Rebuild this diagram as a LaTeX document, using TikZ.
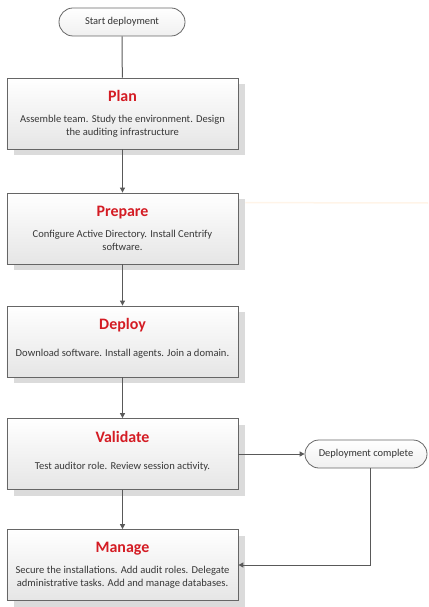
\documentclass[tikz,border=0pt]{standalone}
\usepackage{fontspec}
\setmainfont{Carlito}
\usetikzlibrary{arrows.meta,calc,shadows}
\definecolor{titlered}{RGB}{212,28,36}

\begin{document}
\begin{tikzpicture}[x=1bp,y=-1bp,
    box/.style={draw=gray!80!black,line width=0.8bp,top color=white,bottom color=gray!20,
                minimum width=231bp,minimum height=71bp,
                drop shadow={shadow xshift=7bp,shadow yshift=-6bp,fill=gray!28,opacity=1}},
    ends/.style={draw=gray!80!black,line width=0.8bp,rounded corners=14bp,top color=white,
                 bottom color=gray!12,minimum height=28bp,font=\fontsize{10.5}{12}\selectfont,text=black!80},
    title/.style={anchor=base,font=\fontsize{16}{18}\selectfont\bfseries,text=titlered},
    body/.style={font=\fontsize{10.6}{13}\selectfont,align=center,text=black!78},
    line/.style={draw=gray!70!black,line width=1bp},
    link/.style={line,-{Triangle[length=5bp,width=5bp]}}
   ]
  \useasboundingbox (0,0) rectangle (428,607);

  % terminals
  \node[ends,minimum width=126bp] (start) at (122,22) {Start deployment};
  \node[ends,minimum width=122bp] (done) at (366,454) {Deployment complete};

  % stages
  \node[box] (plan) at (122.5,113.5) {};
  \node[title] (plan-title) at ([yshift=12bp]plan.center) {Plan};
  \node[body] (plan-body) at ([yshift=-13bp]plan.center)
    {Assemble team. Study the environment. Design\\the auditing infrastructure};

  \node[box] (prepare) at (122.5,228.5) {};
  \node[title] (prepare-title) at ([yshift=12bp]prepare.center) {Prepare};
  \node[body] (prepare-body) at ([yshift=-12bp]prepare.center)
    {Configure Active Directory. Install Centrify\\software.};

  \node[box] (deploy) at (122.5,341.5) {};
  \node[title] (deploy-title) at ([yshift=12bp]deploy.center) {Deploy};
  \node[body] (deploy-body) at ([yshift=-12.5bp]deploy.center)
    {Download software. Install agents. Join a domain.};

  \node[box] (validate) at (122.5,454) {};
  \node[title] (validate-title) at ([yshift=11.5bp]validate.center) {Validate};
  \node[body] (validate-body) at ([yshift=-13bp]validate.center)
    {Test auditor role. Review session activity.};

  \node[box] (manage) at (122.5,565) {};
  \node[title] (manage-title) at ([yshift=12.5bp]manage.center) {Manage};
  \node[body] (manage-body) at ([yshift=-12bp]manage.center)
    {Secure the installations. Add audit roles. Delegate\\administrative tasks. Add and manage databases.};

  % faint streak right of Prepare
  \coordinate (rim) at (428,203);
  \draw[orange!9,line width=1.5bp] ([xshift=7bp,yshift=-10bp]prepare.north east) -- (rim);

  % connectors
  \draw[line] (start) -- (plan);
  \draw[link] (plan) -- (prepare);
  \draw[link] (prepare) -- (deploy);
  \draw[link] (deploy) -- (validate);
  \draw[link] (validate) -- (manage);
  \draw[link] (validate) -- (done);
  \draw[link] ([xshift=4bp]done.south) |- (manage.east);
\end{tikzpicture}
\end{document}
